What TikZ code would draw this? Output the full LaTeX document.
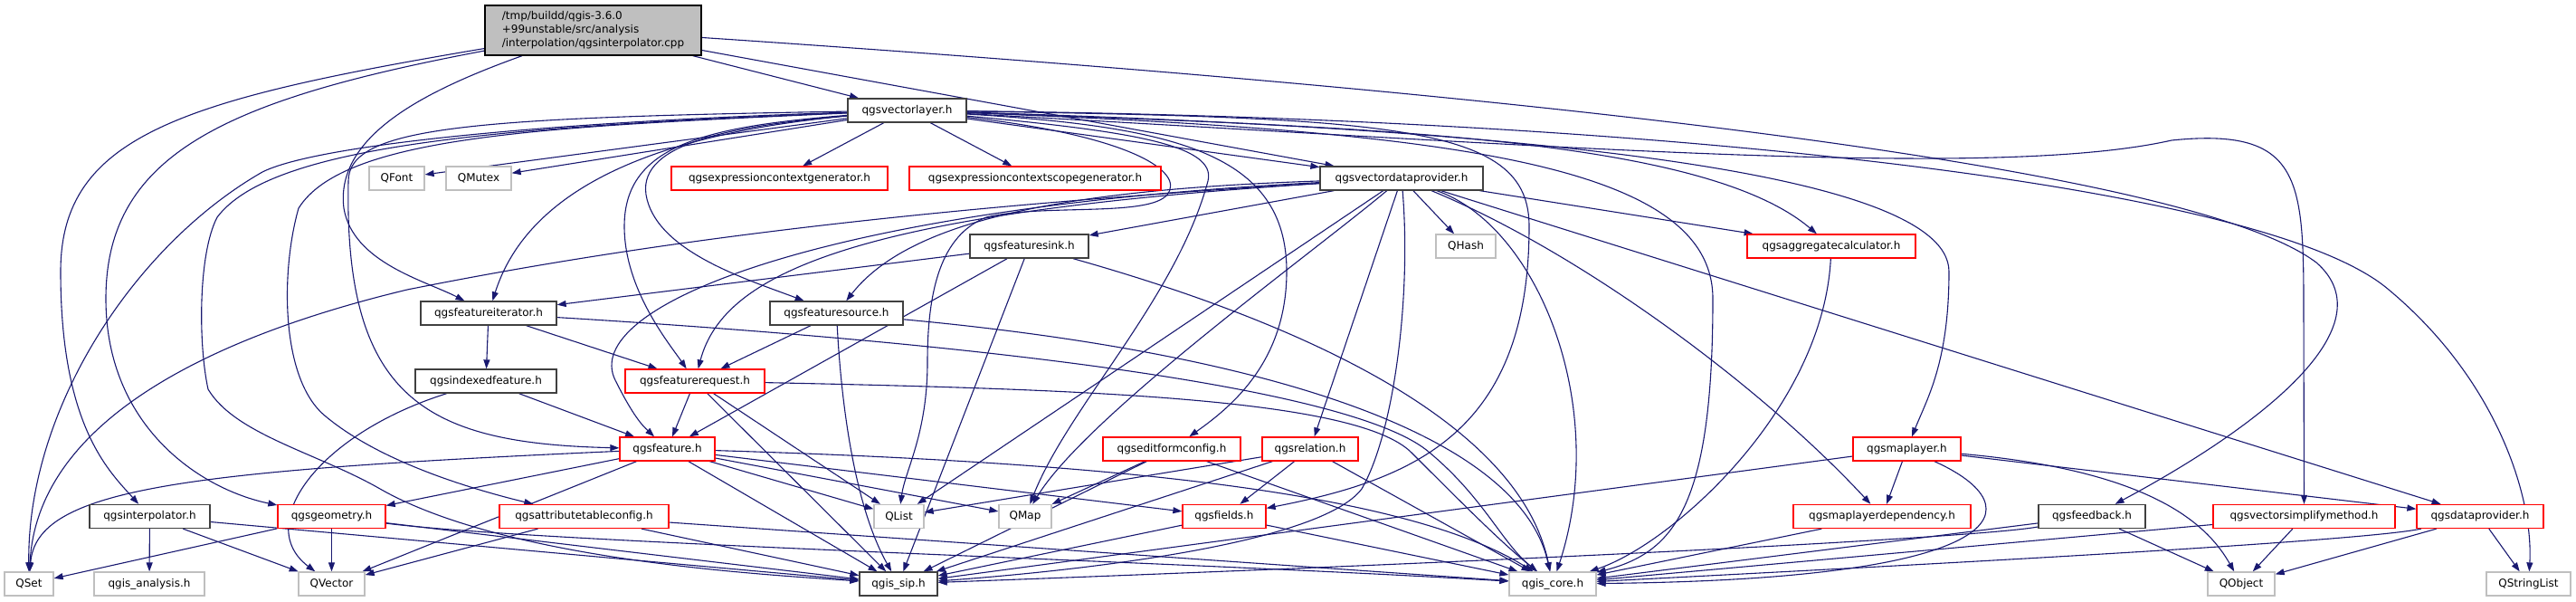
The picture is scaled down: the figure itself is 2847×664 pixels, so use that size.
\documentclass[tikz,border=0pt]{standalone}
\usepackage{fontspec}
\setmainfont{DejaVu Sans}
\usepackage{tikz}
\usetikzlibrary{arrows.meta}
\definecolor{fundo}{HTML}{FFFFFF}
\definecolor{azulseta}{HTML}{191970}
\definecolor{vermelho}{HTML}{FF0000}
\definecolor{cinza}{HTML}{BFBFBF}
\definecolor{borda}{HTML}{404040}
\pgfdeclarelayer{camadaarestas}
\pgfsetlayers{camadaarestas,main}
\newcommand{\inclui}[2]{\draw[aresta] (#1) -- (#2);}

\begin{document}
\begin{tikzpicture}[x=1pt,y=-1pt,
    caixa/.style={draw,line width=1.3pt,fill=fundo,minimum height=26pt,inner sep=0pt,font=\fontsize{12}{14}\selectfont},
    preta/.style={caixa,draw=borda},
    vermelha/.style={caixa,draw=vermelho},
    externa/.style={caixa,draw=cinza},
    aresta/.style={azulseta,line width=1.1pt,-{Triangle[length=10pt,width=7pt]}}]
      \useasboundingbox (0,0) rectangle (2847,664);
      \node[preta,draw=black,fill=cinza,minimum width=239pt,minimum height=55pt,align=left,font=\fontsize{12}{15}\selectfont] (cpp) at (655.5,33.5) {/tmp/buildd/qgis-3.6.0\\+99unstable/src/analysis\\/interpolation/qgsinterpolator.cpp};
      \node[preta,minimum width=131pt] (vlayer) at (1002.5,122) {qgsvectorlayer.h};
      \node[externa,minimum width=61pt] (qfont) at (438.5,197) {QFont};
      \node[externa,minimum width=72pt] (qmutex) at (529,197) {QMutex};
      \node[vermelha,minimum width=239pt] (exprgen) at (861.5,197) {qgsexpressioncontextgenerator.h};
      \node[vermelha,minimum width=278pt] (exprscope) at (1144,197) {qgsexpressioncontextscopegenerator.h};
      \node[preta,minimum width=180pt] (vdprov) at (1549,197) {qgsvectordataprovider.h};
      \node[preta,minimum width=131pt] (fsink) at (1137.5,272) {qgsfeaturesink.h};
      \node[externa,minimum width=66pt] (qhash) at (1620,272) {QHash};
      \node[vermelha,minimum width=186pt] (aggcalc) at (2024,272) {qgsaggregatecalculator.h};
      \node[preta,minimum width=150pt] (fiter) at (540,346) {qgsfeatureiterator.h};
      \node[preta,minimum width=147pt] (fsource) at (924.5,346) {qgsfeaturesource.h};
      \node[preta,minimum width=156pt] (idxfeat) at (537,421) {qgsindexedfeature.h};
      \node[vermelha,minimum width=154pt] (freq) at (768,421) {qgsfeaturerequest.h};
      \node[vermelha,minimum width=105pt] (feature) at (737.5,496) {qgsfeature.h};
      \node[vermelha,minimum width=152pt] (editform) at (1295,496) {qgseditformconfig.h};
      \node[vermelha,minimum width=106pt] (relation) at (1448,496) {qgsrelation.h};
      \node[vermelha,minimum width=119pt] (maplayer) at (2107.5,496) {qgsmaplayer.h};
      \node[preta,minimum width=133pt] (interp) at (165.5,570.5) {qgsinterpolator.h};
      \node[vermelha,minimum width=119pt] (geometry) at (366.5,570.5) {qgsgeometry.h};
      \node[vermelha,minimum width=187pt] (attrtable) at (645.5,570.5) {qgsattributetableconfig.h};
      \node[externa,minimum width=55pt] (qlist) at (993.5,570.5) {QList};
      \node[externa,minimum width=58pt] (qmap) at (1133,570.5) {QMap};
      \node[vermelha,minimum width=92pt] (fields) at (1353,570.5) {qgsfields.h};
      \node[vermelha,minimum width=196pt] (mldep) at (2080,570.5) {qgsmaplayerdependency.h};
      \node[preta,minimum width=118pt] (feedback) at (2312,570.5) {qgsfeedback.h};
      \node[vermelha,minimum width=201pt] (simplify) at (2546.5,570.5) {qgsvectorsimplifymethod.h};
      \node[vermelha,minimum width=140pt] (dprov) at (2741,570.5) {qgsdataprovider.h};
      \node[externa,minimum width=54pt] (qset) at (32,645) {QSet};
      \node[externa,minimum width=122pt] (analysis) at (165,645) {qgis\_analysis.h};
      \node[externa,minimum width=73pt] (qvector) at (366.5,645) {QVector};
      \node[preta,minimum width=86pt] (sip) at (993,645) {qgis\_sip.h};
      \node[externa,minimum width=96pt] (core) at (1716,645) {qgis\_core.h};
      \node[externa,minimum width=74pt] (qobject) at (2477,645) {QObject};
      \node[externa,minimum width=93pt] (qstrlist) at (2794.5,645) {QStringList};

      \begin{pgfonlayer}{camadaarestas}
      \inclui{cpp}{vlayer}
      \inclui{cpp}{vdprov}
      \draw[aresta] (cpp) .. controls (470,100) and (370,150) .. (380,230) .. controls (390,290) and (470,310) .. (fiter);
      \draw[aresta] (cpp) .. controls (200,110) and (67,150) .. (67,300) .. controls (67,470) and (120,520) .. (interp);
      \draw[aresta] (cpp) .. controls (250,110) and (117,170) .. (117,330) .. controls (117,470) and (220,540) .. (geometry);
      \draw[aresta] (cpp) .. controls (1500,90) and (2400,170) .. (2560,290) .. controls (2640,360) and (2500,470) .. (feedback);

      \inclui{vlayer}{qfont}
      \inclui{vlayer}{qmutex}
      \inclui{vlayer}{exprgen}
      \inclui{vlayer}{exprscope}
      \inclui{vlayer}{vdprov}
      \draw[aresta] (vlayer) .. controls (700,150) and (580,220) .. (fiter);
      \draw[aresta] (vlayer) .. controls (800,140) and (700,160) .. (715,220) .. controls (730,280) and (830,310) .. (fsource);
      \draw[aresta] (vlayer) .. controls (780,140) and (690,160) .. (690,250) .. controls (690,320) and (740,380) .. (freq);
      \draw[aresta] (vlayer) .. controls (520,130) and (385,140) .. (385,200) .. controls (380,440) and (470,490) .. (feature);
      \draw[aresta] (vlayer) .. controls (600,140) and (380,150) .. (330,230) .. controls (310,300) and (310,420) .. (360,460) .. controls (420,510) and (520,540) .. (attrtable);
      \draw[aresta] (vlayer) .. controls (550,140) and (300,160) .. (240,240) .. controls (219,280) and (219,380) .. (230,430) .. controls (260,480) and (350,500) .. (420,540) .. controls (560,620) and (850,635) .. (sip);
      \draw[aresta] (vlayer) .. controls (600,135) and (350,160) .. (290,190) .. controls (150,270) and (30,450) .. (qset);
      \draw[aresta] (vlayer) .. controls (1250,150) and (1310,190) .. (1290,215) .. controls (1270,240) and (1150,225) .. (1090,240) .. controls (1040,260) and (1025,320) .. (1025,400) .. controls (1025,480) and (1000,520) .. (qlist);
      \draw[aresta] (vlayer) .. controls (1250,145) and (1345,160) .. (1335,200) .. controls (1300,330) and (1180,450) .. (qmap);
      \draw[aresta] (vlayer) .. controls (1300,140) and (1422,170) .. (1422,300) .. controls (1422,400) and (1360,450) .. (editform);
      \draw[aresta] (vlayer) .. controls (1550,130) and (1690,140) .. (1690,250) .. controls (1690,480) and (1560,530) .. (fields);
      \draw[aresta] (vlayer) .. controls (1500,140) and (1880,150) .. (aggcalc);
      \draw[aresta] (vlayer) .. controls (1600,140) and (2154,180) .. (2154,300) .. controls (2154,400) and (2130,440) .. (maplayer);
      \draw[aresta] (vlayer) .. controls (1600,145) and (1893,180) .. (1893,330) .. controls (1893,560) and (1850,610) .. (core);
      \draw[aresta] (vlayer) .. controls (1700,160) and (2200,200) .. (2400,155) .. controls (2546,140) and (2546,200) .. (2546,350) -- (simplify);
      \draw[aresta] (vlayer) .. controls (1800,130) and (2500,200) .. (2640,320) .. controls (2760,420) and (2800,550) .. (qstrlist);

      \inclui{vdprov}{fsink}
      \inclui{vdprov}{qhash}
      \inclui{vdprov}{aggcalc}
      \draw[aresta] (vdprov) .. controls (1150,210) and (1000,250) .. (fsource);
      \draw[aresta] (vdprov) .. controls (950,235) and (800,300) .. (freq);
      \draw[aresta] (vdprov) .. controls (900,230) and (640,340) .. (680,420) .. controls (700,460) and (710,470) .. (feature);
      \draw[aresta] (vdprov) .. controls (1000,230) and (700,270) .. (450,320) .. controls (200,380) and (40,480) .. (qset);
      \inclui{vdprov}{qlist}
      \draw[aresta] (vdprov) .. controls (1450,280) and (1200,460) .. (qmap);
      \inclui{vdprov}{relation}
      \draw[aresta] (vdprov) .. controls (1560,330) and (1540,480) .. (1505,540) .. controls (1460,600) and (1200,630) .. (sip);
      \draw[aresta] (vdprov) .. controls (1700,250) and (1780,450) .. (core);
      \draw[aresta] (vdprov) .. controls (1750,280) and (1950,430) .. (mldep);
      \inclui{vdprov}{dprov}

      \inclui{fsink}{fiter}
      \inclui{fsink}{feature}
      \inclui{fsink}{sip}
      \draw[aresta] (fsink) .. controls (1450,360) and (1680,470) .. (core);

      \inclui{fiter}{idxfeat}
      \inclui{fiter}{freq}
      \draw[aresta] (fiter) .. controls (1100,380) and (1500,430) .. (1580,500) .. controls (1640,550) and (1660,600) .. (core);

      \inclui{fsource}{freq}
      \draw[aresta] (fsource) .. controls (930,450) and (945,560) .. (sip);
      \draw[aresta] (fsource) .. controls (1400,390) and (1680,480) .. (core);

      \inclui{idxfeat}{feature}
      \draw[aresta] (idxfeat) .. controls (350,480) and (280,580) .. (qvector);

      \inclui{freq}{feature}
      \inclui{freq}{qlist}
      \inclui{freq}{sip}
      \draw[aresta] (freq) .. controls (1200,430) and (1500,440) .. (1560,500) .. controls (1620,560) and (1660,600) .. (core);

      \draw[aresta] (feature) .. controls (200,520) and (40,540) .. (qset);
      \inclui{feature}{geometry}
      \inclui{feature}{qvector}
      \inclui{feature}{sip}
      \draw[aresta] (feature) .. controls (1200,510) and (1550,540) .. (core);
      \inclui{feature}{qlist}
      \inclui{feature}{qmap}
      \inclui{feature}{fields}

      \inclui{interp}{analysis}
      \inclui{interp}{qvector}
      \inclui{interp}{sip}
      \inclui{geometry}{qset}
      \inclui{geometry}{qvector}
      \inclui{geometry}{sip}
      \draw[aresta] (geometry) .. controls (600,600) and (1300,620) .. (core);
      \inclui{attrtable}{qvector}
      \inclui{attrtable}{sip}
      \inclui{attrtable}{core}
      \inclui{editform}{qmap}
      \inclui{editform}{sip}
      \inclui{editform}{core}
      \inclui{relation}{qlist}
      \inclui{relation}{fields}
      \inclui{relation}{sip}
      \inclui{relation}{core}
      \inclui{fields}{sip}
      \inclui{fields}{core}
      \draw[aresta] (aggcalc) .. controls (2015,450) and (1850,600) .. (core);

      \inclui{maplayer}{mldep}
      \inclui{maplayer}{dprov}
      \draw[aresta] (maplayer) .. controls (2380,520) and (2440,580) .. (qobject);
      \draw[aresta] (maplayer) .. controls (2250,560) and (2230,640) .. (core);
      \inclui{maplayer}{sip}
      \inclui{mldep}{core}
      \inclui{feedback}{qobject}
      \inclui{feedback}{core}
      \draw[aresta] (feedback) .. controls (2200,592) and (1800,615) .. (sip);
      \inclui{simplify}{qobject}
      \inclui{simplify}{core}
      \inclui{dprov}{qobject}
      \inclui{dprov}{qstrlist}
      \draw[aresta] (dprov) .. controls (2600,600) and (2000,630) .. (core);
      \end{pgfonlayer}
    \end{tikzpicture}
\end{document}
